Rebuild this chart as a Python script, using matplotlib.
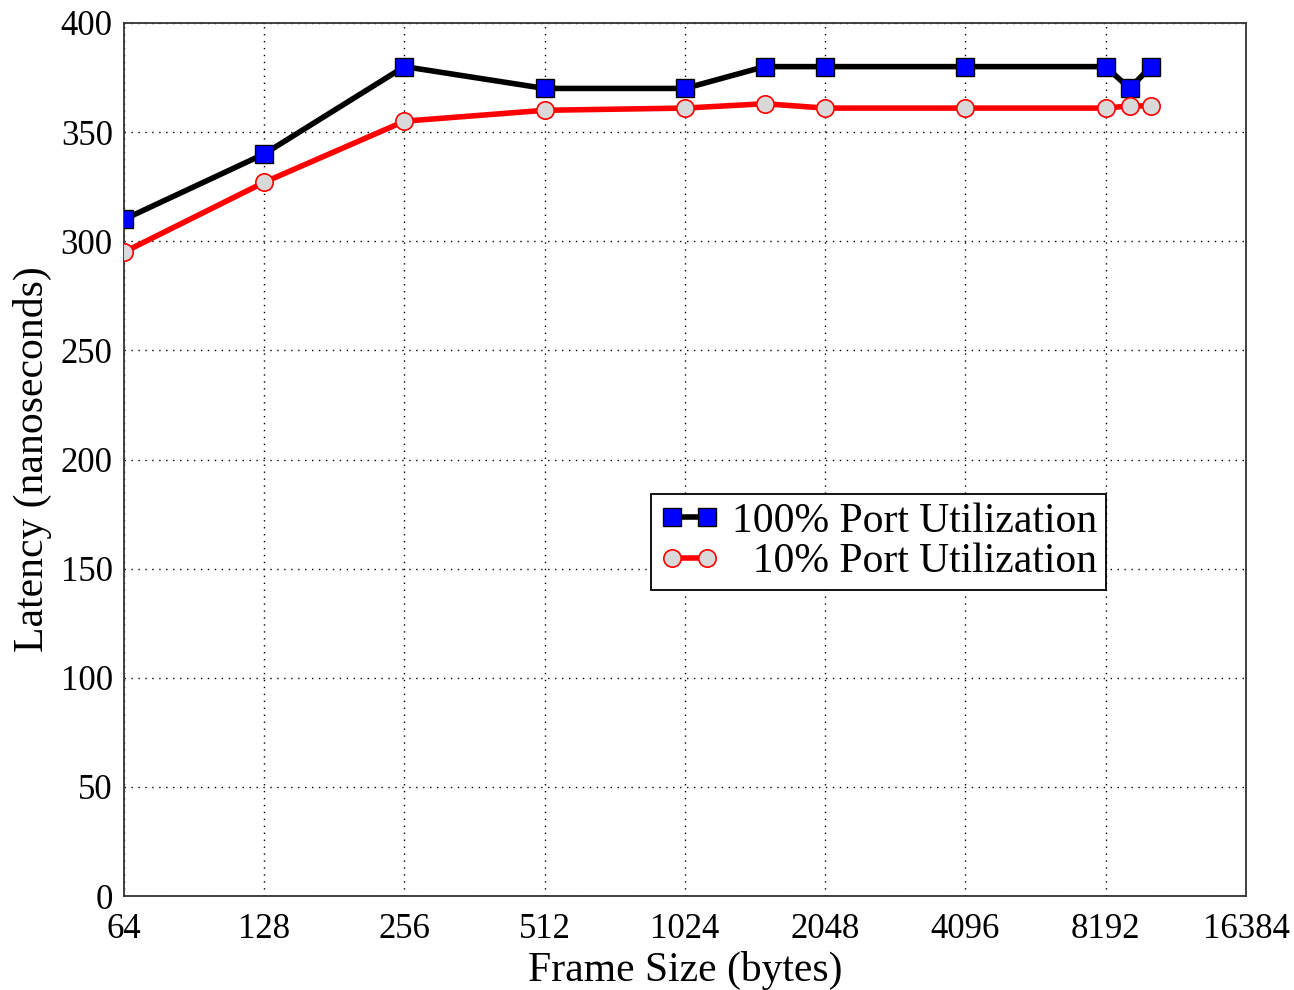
import matplotlib
matplotlib.use("Agg")
import matplotlib.pyplot as plt

plt.rcParams['font.family'] = ['Liberation Serif', 'DejaVu Serif']

frame_sizes = [64, 128, 256, 512, 1024, 1518, 2048, 4096, 8192, 9216, 10240]
lat_full = [310, 340, 380, 370, 370, 380, 380, 380, 380, 370, 380]
lat_ten = [295, 327, 355, 360, 361, 363, 361, 361, 361, 362, 362]

x_ticks = [64, 128, 256, 512, 1024, 2048, 4096, 8192, 16384]
y_ticks = [0, 50, 100, 150, 200, 250, 300, 350, 400]

fig = plt.figure(figsize=(12.94, 9.9), dpi=100)
ax = fig.add_axes([0.0958, 0.0949, 0.8671, 0.8819])

ax.plot(frame_sizes, lat_full, color='black', linewidth=4,
        marker='s', markersize=12.5, markerfacecolor='#0000ff',
        markeredgecolor='black', markeredgewidth=1.0,
        label='100% Port Utilization', zorder=3)
ax.plot(frame_sizes, lat_ten, color='#ff0000', linewidth=4,
        marker='o', markersize=12.5, markerfacecolor='#d9d9d9',
        markeredgecolor='#ff0000', markeredgewidth=1.2,
        label='  10% Port Utilization', zorder=3)

ax.set_xscale('log', base=2)
ax.set_xlim(64, 16384)
ax.set_ylim(0, 400)
ax.set_xticks(x_ticks)
ax.set_xticklabels([str(t) for t in x_ticks])
ax.minorticks_off()
ax.set_yticks(y_ticks)
ax.tick_params(axis='both', length=0, labelsize=25)
ax.tick_params(axis='x', pad=12)
ax.tick_params(axis='y', pad=8)

ax.grid(True, color='black', linestyle=(0, (1, 4)), linewidth=1.0)
for s in ax.spines.values():
    s.set_linewidth(1.3)
    s.set_color('#333333')

ax.set_xlabel('Frame Size (bytes)', fontsize=30, labelpad=4)
ax.set_ylabel('Latency (nanoseconds)', fontsize=30, labelpad=6)

leg = ax.legend(loc='upper left', bbox_to_anchor=(0.4697, 0.4605),
                borderaxespad=0, fontsize=30, numpoints=2, handlelength=1.45,
                handletextpad=0.3, borderpad=0.2, labelspacing=0.05,
                fancybox=False, framealpha=1, edgecolor='black')
leg.get_frame().set_linewidth(1.3)

fig.savefig('out.png', dpi=100)
